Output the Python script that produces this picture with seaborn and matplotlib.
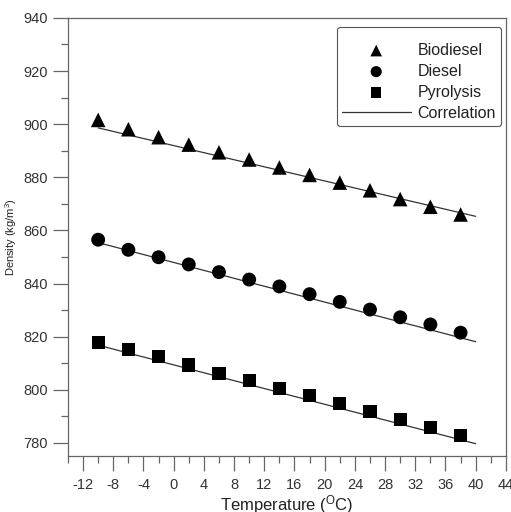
import numpy as np
import pandas as pd
import matplotlib
matplotlib.use("Agg")
import matplotlib.pyplot as plt
import seaborn as sns
from matplotlib.ticker import MultipleLocator

# data
temperature = [-10, -6, -2, 2, 6, 10, 14, 18, 22, 26, 30, 34, 38]
biodiesel = [901.6, 898.1, 895.1, 892.3, 889.4, 886.7, 883.7, 880.9, 878.0, 875.1, 871.8, 868.9, 866.0]
diesel = [856.5, 852.7, 849.9, 847.2, 844.3, 841.5, 838.9, 836.0, 833.1, 830.2, 827.3, 824.6, 821.5]
pyrolysis = [817.9, 815.1, 812.5, 809.3, 806.0, 803.5, 800.6, 797.9, 794.7, 791.8, 788.7, 785.8, 782.9]

# correlation lines (end points)
fit_x = [-10, 40]
biodiesel_fit = [898.6, 865.3]
diesel_fit = [855.4, 818.1]
pyrolysis_fit = [816.8, 779.7]

sns.set_style("ticks")
plt.rcParams['font.family'] = ['Liberation Sans', 'DejaVu Sans']
plt.rcParams['mathtext.fontset'] = 'custom'
plt.rcParams['mathtext.rm'] = 'Liberation Sans'
plt.rcParams['mathtext.it'] = 'Liberation Sans'
plt.rcParams['axes.unicode_minus'] = False

fig = plt.figure(figsize=(5.11, 5.12), dpi=100)
ax = fig.add_axes([0.133, 0.109, 0.857, 0.856])

line_color = '#333333'
for fit, lab in [(biodiesel_fit, 'Correlation'), (diesel_fit, None), (pyrolysis_fit, None)]:
    sns.lineplot(x=fit_x, y=fit, ax=ax, color=line_color, linewidth=0.9,
                 label=lab, legend=False, zorder=1)

series = [(biodiesel, '^', 'Biodiesel', 110), (diesel, 'o', 'Diesel', 100), (pyrolysis, 's', 'Pyrolysis', 90)]
for vals, m, lab, s in series:
    sns.scatterplot(x=temperature, y=vals, ax=ax, marker=m, s=s, color='black',
                    edgecolor='none', linewidth=0, label=lab, legend=False, zorder=2)

ax.set_xlim(-14, 44)
ax.set_ylim(775, 940)
ax.xaxis.set_minor_locator(MultipleLocator(2))
ax.set_xticks(np.arange(-12, 45, 4))
ax.yaxis.set_minor_locator(MultipleLocator(10))
ax.set_yticks(np.arange(780, 941, 20))

spine_color = '#666666'
for sp in ax.spines.values():
    sp.set_color(spine_color)
    sp.set_linewidth(0.9)
ax.tick_params(which='major', length=10.5, width=0.9, color=spine_color,
               labelsize=10.5, labelcolor='#333333', pad=4)
ax.tick_params(which='minor', length=5, width=0.9, color=spine_color)
ax.tick_params(axis='x', which='major', pad=5)

ax.set_xlabel('Temperature ($^{\\mathrm{O}}$C)', fontsize=12, color='#222222', labelpad=1)
ax.set_ylabel('Density (kg/m$^3$)', fontsize=8, color='#222222', labelpad=3)

handles, labels = ax.get_legend_handles_labels()
order = ['Biodiesel', 'Diesel', 'Pyrolysis', 'Correlation']
hmap = dict(zip(labels, handles))
leg = ax.legend([hmap[k] for k in order], order, loc='upper right',
                bbox_to_anchor=(0.9886, 0.9795), fontsize=11.5, frameon=True,
                fancybox=True, edgecolor='#555555', framealpha=1,
                title=' ', title_fontsize=4,
                handlelength=4.3, handletextpad=0.45, labelspacing=0.38,
                borderpad=0.3, borderaxespad=0, markerscale=0.8)
leg.get_frame().set_linewidth(0.8)
for t in leg.get_texts():
    t.set_color('#222222')

fig.savefig('out.png', dpi=100)
